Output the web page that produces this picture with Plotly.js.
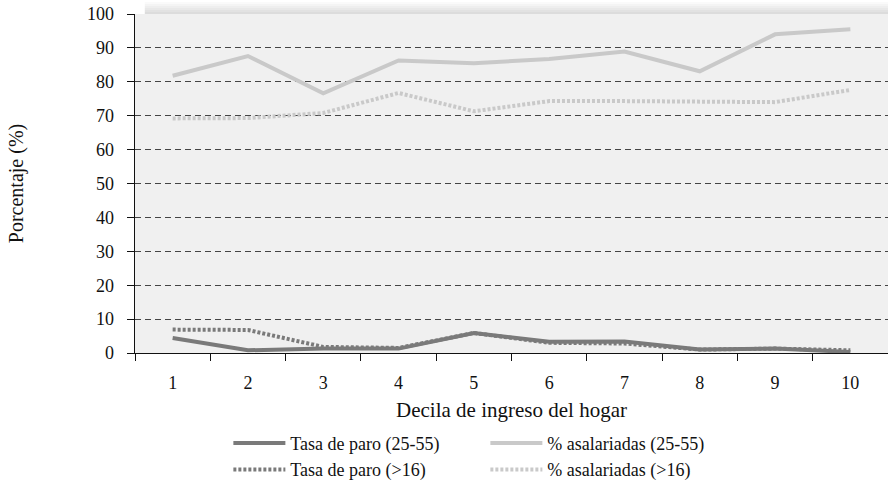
<!DOCTYPE html>
<html><head><meta charset="utf-8">
<script src="https://cdn.plot.ly/plotly-3.0.1.min.js"></script>
<style>html,body{margin:0;padding:0;background:#fff}#chart{width:888px;height:484px}</style>
</head><body><div id="chart"></div>
<script>
const deciles = ['1','2','3','4','5','6','7','8','9','10'];
const paro2555 = [4.4, 0.8, 1.3, 1.3, 5.9, 3.3, 3.4, 1.0, 1.3, 0.3];
const paro16 = [6.9, 6.8, 1.8, 1.5, 5.9, 3.0, 2.8, 1.0, 1.3, 0.8];
const asal2555 = [81.8, 87.6, 76.6, 86.3, 85.5, 86.7, 88.9, 83.1, 94.0, 95.5];
const asal16 = [69.2, 69.3, 70.8, 76.7, 71.3, 74.3, 74.3, 74.2, 74.0, 77.6];

const dark = '#7a7a7a', light = '#c9c9c9';
const traces = [
  {x: deciles, y: paro2555, name: 'Tasa de paro (25-55)', mode: 'lines', line: {color: dark, width: 4}},
  {x: deciles, y: asal2555, name: '% asalariadas (25-55)', mode: 'lines', line: {color: light, width: 4}},
  {x: deciles, y: paro16, name: 'Tasa de paro (>16)', mode: 'lines', line: {color: dark, width: 4, dash: '3px,2px'}},
  {x: deciles, y: asal16, name: '% asalariadas (>16)', mode: 'lines', line: {color: light, width: 4, dash: '3px,2px'}}
];

const shapes = [];
const shadeCols = ['#fafafa','#f4f4f4','#eeeeee','#e8e8e8','#e2e2e2','#dcdcdc'];
for (let i = 0; i < shadeCols.length; i++) {
  shapes.push({type: 'rect', xref: 'paper', yref: 'paper', x0: 0.013, x1: 1, y0: 1 + (shadeCols.length - i) * 0.0059 - 0.0059, y1: 1 + (shadeCols.length - i) * 0.0059, fillcolor: shadeCols[i], line: {width: 0}, layer: 'below'});
}

const SERIF = 'Liberation Serif';
const layout = {
  width: 888, height: 484,
  margin: {l: 135, r: 0, t: 14, b: 131, autoexpand: false},
  paper_bgcolor: '#ffffff', plot_bgcolor: '#f0f0f0',
  font: {family: SERIF, color: '#111', size: 18},
  showlegend: true,
  shapes: shapes,
  xaxis: {
    type: 'category', tickson: 'boundaries', ticks: 'outside', ticklen: 7, tickcolor: '#111', tickwidth: 1,
    showline: true, linecolor: '#111', linewidth: 1, showgrid: false, zeroline: false, automargin: false,
    tickfont: {family: SERIF, size: 18, color: '#111'}, range: [-0.5, 9.5], ticklabelstandoff: 13,
    title: {text: 'Decila de ingreso del hogar', font: {family: SERIF, size: 21, color: '#111'}, standoff: 10}
  },
  yaxis: {
    range: [0, 100], tickmode: 'linear', tick0: 0, dtick: 10, automargin: false,
    ticks: 'outside', ticklen: 7, tickcolor: '#111', ticklabelstandoff: 9,
    showline: true, linecolor: '#111', linewidth: 1.5,
    showgrid: true, gridcolor: '#444', griddash: '6px,4px', gridwidth: 1,
    zeroline: false, tickfont: {family: SERIF, size: 18, color: '#111'},
    title: {text: 'Porcentaje (%)', font: {family: SERIF, size: 20, color: '#111'}, standoff: 58}
  },
  legend: {
    orientation: 'h', x: 0.124, xanchor: 'left', y: -0.212, yanchor: 'top',
    entrywidth: 190, entrywidthmode: 'pixels', itemwidth: 52,
    font: {family: SERIF, size: 18, color: '#111'}, bgcolor: 'rgba(0,0,0,0)', tracegroupgap: 0
  }
};
Plotly.newPlot('chart', traces, layout, {displayModeBar: false, staticPlot: true});
</script>
</body></html>
